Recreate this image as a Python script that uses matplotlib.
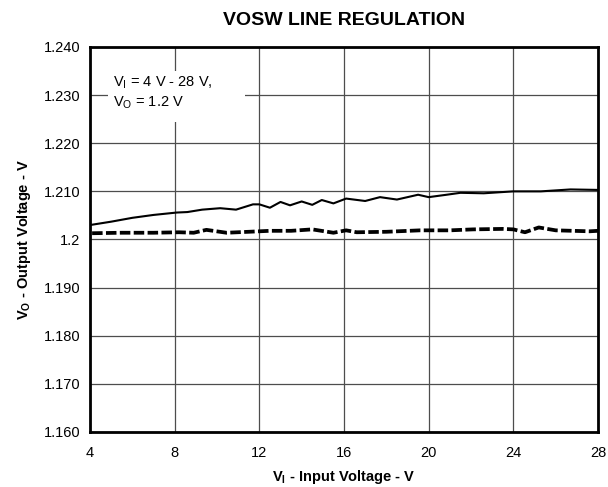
import matplotlib.pyplot as plt
import matplotlib.ticker as mticker
from matplotlib.patches import Rectangle

plt.rcParams['font.family'] = ['Liberation Sans', 'DejaVu Sans']
plt.rcParams['mathtext.fontset'] = 'custom'
plt.rcParams['mathtext.rm'] = 'Liberation Sans'
plt.rcParams['mathtext.bf'] = 'Liberation Sans:bold'

# solid curve
vi_solid = [4.0, 5.0, 6.0, 7.0, 8.1, 8.6, 9.3, 10.15, 10.9, 11.7, 12.0, 12.5, 13.0,
            13.45, 14.0, 14.5, 14.95, 15.5, 16.1, 17.0, 17.7, 18.5, 19.5, 20.0,
            20.85, 21.5, 22.6, 24.0, 25.3, 26.7, 28.0]
vo_solid = [1.2030, 1.2037, 1.2045, 1.2051, 1.2056, 1.2057, 1.2062, 1.2065, 1.2062,
            1.2073, 1.2073, 1.2066, 1.2078, 1.2071, 1.2079, 1.2072, 1.2082, 1.2075,
            1.2085, 1.2080, 1.2088, 1.2083, 1.2093, 1.2088, 1.2093, 1.2097, 1.2096,
            1.2100, 1.2100, 1.2104, 1.2103]

# dashed curve
vi_dash = [4.1, 5.5, 7.0, 8.2, 8.9, 9.5, 10.45, 11.5, 12.5, 13.5, 14.5, 15.5, 16.1,
           16.6, 18.0, 19.6, 21.0, 22.1, 23.5, 24.0, 24.55, 25.2, 26.0, 27.6, 28.0]
vo_dash = [1.2013, 1.2014, 1.2014, 1.2015, 1.2014, 1.2020, 1.2014, 1.2016, 1.2018,
           1.2018, 1.2021, 1.2014, 1.2019, 1.2015, 1.2016, 1.2019, 1.2019, 1.2021,
           1.2022, 1.2021, 1.2015, 1.2025, 1.2019, 1.2017, 1.2018]

x_ticks = [4, 8, 12, 16, 20, 24, 28]
y_ticks = [1.160, 1.170, 1.180, 1.190, 1.200, 1.210, 1.220, 1.230, 1.240]
y_labels = ["1.160", "1.170", "1.180", "1.190", "1.2", "1.210", "1.220", "1.230", "1.240"]

fig = plt.figure(figsize=(6.08, 4.87), dpi=100)
ax = fig.add_axes([0.148, 0.113, 0.8356, 0.7905])

ax.plot(vi_solid, vo_solid, color='black', lw=1.5, zorder=3)
ax.plot(vi_dash, vo_dash, color='black', lw=2.7, ls=(0, (2.8, 0.9)), zorder=3)

ax.set_xlim(4, 28)
ax.set_ylim(1.160, 1.240)
ax.set_xticks(x_ticks)
ax.set_yticks(y_ticks)
ax.yaxis.set_major_formatter(mticker.FixedFormatter(y_labels))
ax.tick_params(length=0, labelsize=10.5)
ax.tick_params(axis='x', pad=10)
ax.tick_params(axis='y', pad=7)
ax.grid(True, color='0.3', lw=0.9)
ax.set_axisbelow(True)
for s in ax.spines.values():
    s.set_linewidth(2.0)
    s.set_zorder(5)

# white box behind the note
ax.add_patch(Rectangle((4.85, 1.2244), 6.47, 0.0106, facecolor='white',
                       edgecolor='none', zorder=2))
ax.text(5.1, 1.2318, "V$_\\mathregular{I}$ = 4 V - 28 V,", fontsize=10.5, zorder=4)
ax.text(5.1, 1.2276, "V$_\\mathregular{O}$ = 1.2 V", fontsize=10.5, zorder=4)

ax.set_title("VOSW LINE REGULATION", fontsize=14, fontweight='bold', pad=16)
ax.set_xlabel("V$_\\mathbf{I}$ - Input Voltage - V", fontsize=10.5, fontweight='bold', labelpad=6)
ax.set_ylabel("V$_\\mathbf{O}$ - Output Voltage - V", fontsize=10.5, fontweight='bold', labelpad=8)

fig.savefig("out.png", dpi=100)
